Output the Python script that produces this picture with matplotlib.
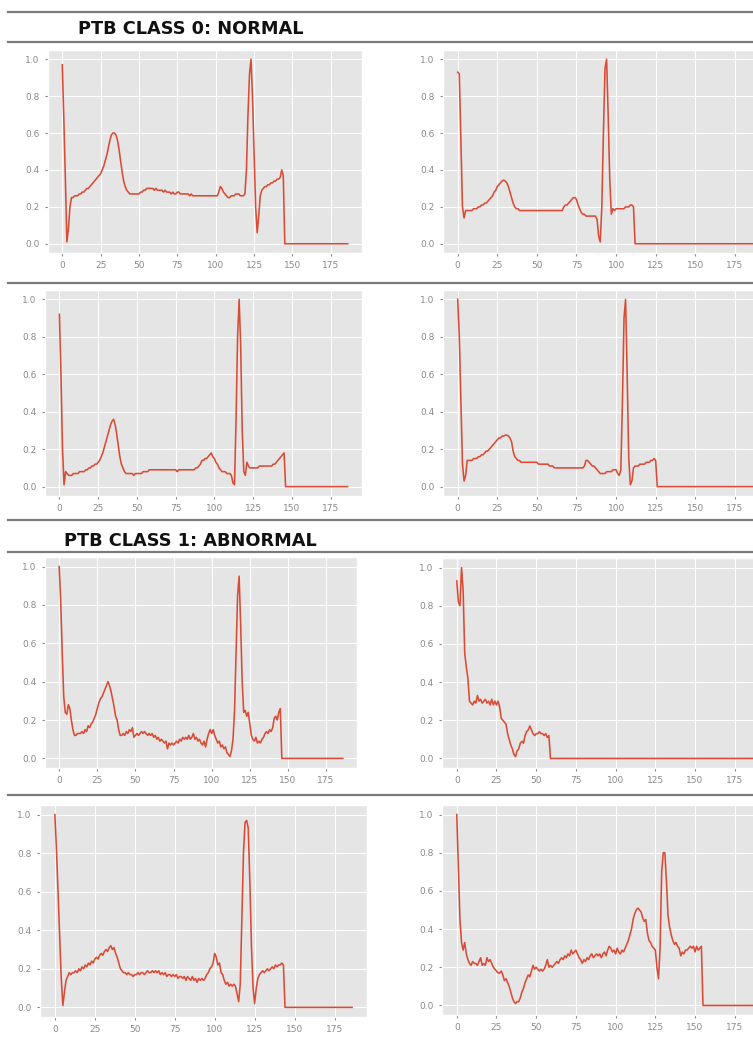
import matplotlib.pyplot as plt
from matplotlib.lines import Line2D

W, H = 753, 1037

# ECG beats, one value per sample (187 samples each)
normal_1 = [
    0.97, 0.68, 0.36, 0.01, 0.08, 0.20, 0.25, 0.25, 0.26, 0.26,
    0.26, 0.27, 0.27, 0.28, 0.28, 0.29, 0.30, 0.30, 0.31, 0.32,
    0.33, 0.34, 0.35, 0.36, 0.37, 0.38, 0.40, 0.42, 0.45, 0.48,
    0.52, 0.56, 0.59, 0.60, 0.60, 0.59, 0.56, 0.51, 0.45, 0.39,
    0.34, 0.31, 0.29, 0.28, 0.27, 0.27, 0.27, 0.27, 0.27, 0.27,
    0.27, 0.28, 0.28, 0.29, 0.29, 0.30, 0.30, 0.30, 0.30, 0.30,
    0.29, 0.30, 0.29, 0.29, 0.29, 0.29, 0.28, 0.29, 0.28, 0.28,
    0.28, 0.27, 0.28, 0.27, 0.27, 0.28, 0.28, 0.27, 0.27, 0.27,
    0.27, 0.27, 0.27, 0.26, 0.27, 0.26, 0.26, 0.26, 0.26, 0.26,
    0.26, 0.26, 0.26, 0.26, 0.26, 0.26, 0.26, 0.26, 0.26, 0.26,
    0.26, 0.26, 0.28, 0.31, 0.30, 0.28, 0.27, 0.26, 0.25, 0.25,
    0.26, 0.26, 0.26, 0.27, 0.27, 0.27, 0.26, 0.26, 0.26, 0.27,
    0.40, 0.70, 0.92, 1.00, 0.78, 0.48, 0.20, 0.06, 0.15, 0.26,
    0.29, 0.30, 0.31, 0.31, 0.32, 0.32, 0.33, 0.33, 0.34, 0.34,
    0.35, 0.35, 0.36, 0.40, 0.37,
] + [0.0] * 42

normal_2 = [
    0.93, 0.92, 0.55, 0.20, 0.14, 0.18, 0.18, 0.18, 0.18, 0.18,
    0.19, 0.19, 0.19, 0.20, 0.20, 0.21, 0.21, 0.22, 0.22, 0.23,
    0.24, 0.25, 0.26, 0.28, 0.29, 0.31, 0.32, 0.33, 0.34, 0.345,
    0.34, 0.33, 0.31, 0.28, 0.25, 0.22, 0.20, 0.19, 0.19, 0.18,
    0.18, 0.18, 0.18, 0.18, 0.18, 0.18, 0.18, 0.18, 0.18, 0.18,
    0.18, 0.18, 0.18, 0.18, 0.18, 0.18, 0.18, 0.18, 0.18, 0.18,
    0.18, 0.18, 0.18, 0.18, 0.18, 0.18, 0.18, 0.20, 0.21, 0.21,
    0.22, 0.23, 0.24, 0.25, 0.25, 0.24, 0.21, 0.19, 0.17, 0.16,
    0.16, 0.15, 0.15, 0.15, 0.15, 0.15, 0.15, 0.15, 0.13, 0.04,
    0.01, 0.20, 0.60, 0.95, 1.00, 0.70, 0.35, 0.16, 0.19, 0.18,
    0.19, 0.19, 0.19, 0.19, 0.19, 0.19, 0.20, 0.20, 0.20, 0.21,
    0.21, 0.20,
] + [0.0] * 75

normal_3 = [
    0.92, 0.60, 0.20, 0.01, 0.08, 0.07, 0.06, 0.06, 0.06, 0.07,
    0.07, 0.07, 0.07, 0.08, 0.08, 0.08, 0.08, 0.09, 0.09, 0.10,
    0.10, 0.11, 0.11, 0.12, 0.12, 0.13, 0.14, 0.16, 0.18, 0.21,
    0.24, 0.27, 0.30, 0.33, 0.35, 0.36, 0.33, 0.28, 0.22, 0.16,
    0.12, 0.10, 0.08, 0.07, 0.07, 0.07, 0.07, 0.07, 0.06, 0.07,
    0.07, 0.07, 0.07, 0.07, 0.08, 0.08, 0.08, 0.08, 0.09, 0.09,
    0.09, 0.09, 0.09, 0.09, 0.09, 0.09, 0.09, 0.09, 0.09, 0.09,
    0.09, 0.09, 0.09, 0.09, 0.09, 0.09, 0.08, 0.09, 0.09, 0.09,
    0.09, 0.09, 0.09, 0.09, 0.09, 0.09, 0.09, 0.09, 0.10, 0.10,
    0.11, 0.12, 0.14, 0.14, 0.15, 0.15, 0.16, 0.17, 0.18, 0.16,
    0.15, 0.13, 0.12, 0.10, 0.09, 0.08, 0.08, 0.08, 0.07, 0.07,
    0.07, 0.06, 0.02, 0.01, 0.35, 0.80, 1.00, 0.75, 0.30, 0.08,
    0.06, 0.13, 0.11, 0.10, 0.10, 0.10, 0.10, 0.10, 0.10, 0.11,
    0.11, 0.11, 0.11, 0.11, 0.11, 0.11, 0.11, 0.11, 0.12, 0.12,
    0.13, 0.14, 0.15, 0.16, 0.17, 0.18,
] + [0.0] * 41

normal_4 = [
    1.00, 0.80, 0.45, 0.12, 0.03, 0.06, 0.14, 0.14, 0.14, 0.14,
    0.15, 0.15, 0.15, 0.16, 0.16, 0.17, 0.17, 0.18, 0.19, 0.19,
    0.20, 0.21, 0.22, 0.23, 0.24, 0.25, 0.26, 0.26, 0.27, 0.27,
    0.275, 0.275, 0.27, 0.26, 0.24, 0.19, 0.16, 0.15, 0.14, 0.14,
    0.13, 0.13, 0.13, 0.13, 0.13, 0.13, 0.13, 0.13, 0.13, 0.13,
    0.13, 0.12, 0.12, 0.12, 0.12, 0.12, 0.12, 0.12, 0.11, 0.11,
    0.11, 0.10, 0.10, 0.10, 0.10, 0.10, 0.10, 0.10, 0.10, 0.10,
    0.10, 0.10, 0.10, 0.10, 0.10, 0.10, 0.10, 0.10, 0.10, 0.10,
    0.11, 0.14, 0.14, 0.13, 0.12, 0.11, 0.11, 0.10, 0.09, 0.08,
    0.07, 0.07, 0.07, 0.07, 0.08, 0.08, 0.08, 0.08, 0.09, 0.09,
    0.09, 0.07, 0.06, 0.09, 0.45, 0.90, 1.00, 0.60, 0.15, 0.01,
    0.03, 0.10, 0.11, 0.11, 0.11, 0.12, 0.12, 0.12, 0.12, 0.13,
    0.13, 0.13, 0.14, 0.14, 0.15, 0.14,
] + [0.0] * 61

abnormal_1 = [
    1.00, 0.82, 0.55, 0.32, 0.24, 0.23, 0.28, 0.26, 0.20, 0.15,
    0.12, 0.12, 0.13, 0.13, 0.13, 0.14, 0.13, 0.15, 0.14, 0.17,
    0.16, 0.18, 0.19, 0.21, 0.23, 0.26, 0.29, 0.31, 0.32, 0.34,
    0.36, 0.38, 0.40, 0.38, 0.35, 0.31, 0.27, 0.22, 0.20, 0.15,
    0.12, 0.12, 0.13, 0.12, 0.14, 0.13, 0.15, 0.14, 0.16, 0.11,
    0.12, 0.13, 0.12, 0.13, 0.14, 0.13, 0.14, 0.13, 0.12, 0.13,
    0.12, 0.13, 0.11, 0.12, 0.10, 0.11, 0.09, 0.10, 0.09, 0.08,
    0.09, 0.05, 0.08, 0.07, 0.08, 0.07, 0.08, 0.09, 0.08, 0.10,
    0.09, 0.11, 0.10, 0.11, 0.10, 0.12, 0.10, 0.11, 0.13, 0.10,
    0.11, 0.09, 0.10, 0.08, 0.07, 0.09, 0.06, 0.10, 0.13, 0.15,
    0.13, 0.15, 0.12, 0.10, 0.08, 0.09, 0.06, 0.07, 0.05, 0.06,
    0.03, 0.02, 0.01, 0.04, 0.10, 0.25, 0.55, 0.85, 0.95, 0.70,
    0.40, 0.24, 0.25, 0.22, 0.24, 0.18, 0.12, 0.10, 0.09, 0.11,
    0.08, 0.09, 0.08, 0.10, 0.11, 0.13, 0.14, 0.13, 0.15, 0.14,
    0.16, 0.21, 0.22, 0.20, 0.24, 0.26,
] + [0.0] * 41

abnormal_2 = [
    0.93, 0.82, 0.80, 1.00, 0.88, 0.55, 0.48, 0.42, 0.30, 0.29,
    0.28, 0.30, 0.29, 0.33, 0.30, 0.31, 0.29, 0.30, 0.31, 0.29,
    0.30, 0.28, 0.31, 0.28, 0.30, 0.28, 0.30, 0.27, 0.21, 0.20,
    0.19, 0.18, 0.13, 0.10, 0.07, 0.05, 0.02, 0.01, 0.04, 0.05,
    0.08, 0.09, 0.08, 0.12, 0.14, 0.15, 0.17, 0.15, 0.13, 0.12,
    0.13, 0.13, 0.14, 0.13, 0.13, 0.12, 0.13, 0.11, 0.12,
] + [0.0] * 128

abnormal_3 = [
    1.00, 0.82, 0.60, 0.38, 0.15, 0.01, 0.08, 0.14, 0.16, 0.18,
    0.17, 0.18, 0.18, 0.19, 0.18, 0.20, 0.19, 0.21, 0.20, 0.22,
    0.21, 0.23, 0.22, 0.24, 0.23, 0.25, 0.26, 0.25, 0.27, 0.28,
    0.27, 0.29, 0.30, 0.29, 0.31, 0.32, 0.30, 0.31, 0.28, 0.26,
    0.23, 0.20, 0.19, 0.18, 0.18, 0.17, 0.18, 0.17, 0.17, 0.16,
    0.17, 0.17, 0.18, 0.17, 0.18, 0.18, 0.17, 0.18, 0.19, 0.18,
    0.18, 0.19, 0.18, 0.19, 0.18, 0.19, 0.17, 0.18, 0.17, 0.18,
    0.16, 0.17, 0.17, 0.16, 0.17, 0.16, 0.17, 0.15, 0.16, 0.16,
    0.15, 0.16, 0.14, 0.16, 0.15, 0.14, 0.16, 0.14, 0.15, 0.13,
    0.15, 0.14, 0.15, 0.14, 0.15, 0.17, 0.18, 0.20, 0.21, 0.23,
    0.28, 0.26, 0.22, 0.23, 0.18, 0.17, 0.14, 0.12, 0.13, 0.11,
    0.12, 0.11, 0.12, 0.11, 0.07, 0.03, 0.12, 0.45, 0.80, 0.96,
    0.97, 0.93, 0.65, 0.32, 0.10, 0.02, 0.10, 0.15, 0.17, 0.18,
    0.19, 0.18, 0.19, 0.20, 0.19, 0.20, 0.21, 0.20, 0.22, 0.21,
    0.22, 0.22, 0.23, 0.22,
] + [0.0] * 43

abnormal_4 = [
    1.00, 0.72, 0.45, 0.33, 0.29, 0.33, 0.27, 0.24, 0.22, 0.21,
    0.23, 0.22, 0.22, 0.21, 0.23, 0.25, 0.21, 0.22, 0.21, 0.25,
    0.23, 0.24, 0.22, 0.20, 0.19, 0.18, 0.17, 0.17, 0.18, 0.16,
    0.13, 0.14, 0.12, 0.10, 0.07, 0.04, 0.02, 0.01, 0.02, 0.02,
    0.04, 0.07, 0.09, 0.12, 0.14, 0.16, 0.15, 0.18, 0.21, 0.19,
    0.20, 0.19, 0.18, 0.19, 0.18, 0.19, 0.21, 0.24, 0.20, 0.21,
    0.20, 0.21, 0.22, 0.23, 0.22, 0.24, 0.25, 0.24, 0.26, 0.25,
    0.27, 0.26, 0.29, 0.27, 0.28, 0.29, 0.27, 0.25, 0.24, 0.22,
    0.24, 0.23, 0.25, 0.24, 0.26, 0.27, 0.25, 0.26, 0.27, 0.26,
    0.27, 0.25, 0.27, 0.28, 0.26, 0.29, 0.31, 0.30, 0.28, 0.29,
    0.27, 0.30, 0.28, 0.27, 0.29, 0.28, 0.30, 0.32, 0.34, 0.37,
    0.40, 0.45, 0.48, 0.50, 0.51, 0.50, 0.49, 0.46, 0.44, 0.45,
    0.38, 0.34, 0.33, 0.31, 0.30, 0.29, 0.20, 0.14, 0.30, 0.70,
    0.80, 0.80, 0.65, 0.47, 0.41, 0.37, 0.34, 0.32, 0.33, 0.31,
    0.30, 0.26, 0.28, 0.27, 0.29, 0.29, 0.30, 0.31, 0.30, 0.31,
    0.28, 0.31, 0.29, 0.30, 0.31,
] + [0.0] * 32

headers = ["PTB CLASS 0: NORMAL", "PTB CLASS 1: ABNORMAL"]
x_ticks = [0, 25, 50, 75, 100, 125, 150, 175]
y_ticks = [0.0, 0.2, 0.4, 0.6, 0.8, 1.0]

plt.style.use("ggplot")
fig = plt.figure(figsize=(W / 100, H / 100), dpi=100)
fig.patch.set_facecolor("white")


def px_axes(left, right, top, bottom):
    # axes placed by pixel box of the screenshot
    return fig.add_axes([left / W, 1 - bottom / H, (right - left) / W, (bottom - top) / H])


panels = [
    (normal_1, (48, 362, 50, 253)),
    (normal_2, (443, 767, 50, 253)),
    (normal_3, (45, 362, 290, 496)),
    (normal_4, (443, 767, 290, 496)),
    (abnormal_1, (45, 357, 557, 768)),
    (abnormal_2, (442, 767, 558, 768)),
    (abnormal_3, (40, 367, 805, 1017)),
    (abnormal_4, (442, 767, 805, 1015)),
]

for ys, box in panels:
    ax = px_axes(*box)
    ax.plot(range(len(ys)), ys, color="#DA4B36", lw=1.15)
    ax.set_xticks(x_ticks)
    ax.set_yticks(y_ticks)
    ax.tick_params(labelsize=6.5, colors="#8a8a8a", length=2.5)

# separator lines of the collage
for y in [12, 42, 283, 520, 552, 795]:
    fig.add_artist(Line2D([8 / W, 1.0], [1 - y / H, 1 - y / H], color="#7a7a7a", lw=1.6))

fig.text(78 / W, 1 - 29 / H, headers[0], fontsize=12.8, fontweight="bold",
         family="DejaVu Sans", va="center", ha="left", color="#111111")
fig.text(64 / W, 1 - 541 / H, headers[1], fontsize=12.8, fontweight="bold",
         family="DejaVu Sans", va="center", ha="left", color="#111111")

fig.savefig("out.png", dpi=100, facecolor="white")
